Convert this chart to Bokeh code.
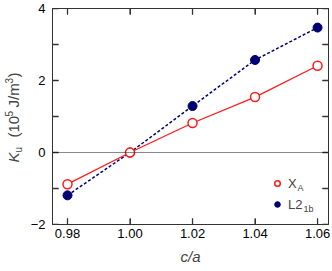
import math
from bokeh.plotting import figure
from bokeh.layouts import row
from bokeh.models import (Range1d, FixedTicker, LinearAxis, Span, Label, Legend,
                          LegendItem, PrintfTickFormatter)
from bokeh.embed import file_html
from bokeh.resources import INLINE

# ---- data ----
ca = [0.98, 1.00, 1.02, 1.04, 1.06]
ku_xa = [-0.88, 0.0, 0.82, 1.54, 2.41]
ku_l21b = [-1.19, 0.0, 1.29, 2.57, 3.47]
x_ticks = [0.98, 1.00, 1.02, 1.04, 1.06]
y_major = [-2, 0, 2, 4]
y_minor = [-1, 1, 3]
y_tick_labels = {-2: "\u22122"}
x_lim = (0.9752, 1.0635)
y_lim = (-2, 4)

RED = "#ff1a1a"
NAVY = "#000070"
AX = "#333333"
FONT = "Liberation Sans"

LW = 26                       # width of the strip holding the y title
W, H = 332 - LW, 271
ML, MR, MT, MB = 52 - LW, 4, 8, 47
FW, FH = W - ML - MR, H - MT - MB
TICK = 6                      # inward tick length in pixels

p = figure(width=W, height=H, x_range=Range1d(*x_lim), y_range=Range1d(*y_lim),
           output_backend="svg", toolbar_location=None,
           min_border_left=ML, min_border_right=MR, min_border_top=MT, min_border_bottom=MB)
p.grid.visible = False
p.outline_line_color = AX
p.background_fill_color = "white"
p.border_fill_color = "white"

def style_axis(ax):
    ax.axis_line_color = AX
    ax.major_tick_line_color = AX
    ax.minor_tick_line_color = AX
    ax.major_tick_in = TICK
    ax.major_tick_out = 0
    ax.minor_tick_in = TICK
    ax.minor_tick_out = 0
    ax.major_label_text_font = FONT
    ax.major_label_text_color = "black"
    ax.major_label_text_font_size = "13px"

xb = p.xaxis[0]
xb.ticker = FixedTicker(ticks=x_ticks)
xb.formatter = PrintfTickFormatter(format="%.2f")
style_axis(xb)
xb.major_label_standoff = 4
xb.axis_label = "c/a"
xb.axis_label_text_font = FONT
xb.axis_label_text_font_style = "italic"
xb.axis_label_text_font_size = "15px"
xb.axis_label_standoff = 7

yl = p.yaxis[0]
yl.ticker = FixedTicker(ticks=y_major, minor_ticks=y_minor)
yl.major_label_overrides = y_tick_labels
style_axis(yl)
yl.major_label_standoff = 7

# mirror axes (lines only; no tick labels)
xt = LinearAxis(ticker=FixedTicker(ticks=[], minor_ticks=x_ticks))
style_axis(xt)
p.add_layout(xt, "above")
yr = LinearAxis(ticker=FixedTicker(ticks=[], minor_ticks=y_major + y_minor))
style_axis(yr)
p.add_layout(yr, "right")

# inward ticks on all four sides, as short segments (length converted from pixels)
dx = (x_lim[1] - x_lim[0]) / FW * TICK
dy = (y_lim[1] - y_lim[0]) / FH * TICK
y_all = y_major + y_minor
n = len(x_ticks)
m = len(y_all)
tick_style = dict(line_color=AX, line_width=1.3)
p.segment(x0=x_ticks, y0=[y_lim[0]] * n, x1=x_ticks, y1=[y_lim[0] + dy] * n, **tick_style)
p.segment(x0=x_ticks, y0=[y_lim[1]] * n, x1=x_ticks, y1=[y_lim[1] - dy] * n, **tick_style)
p.segment(x0=[x_lim[0]] * m, y0=y_all, x1=[x_lim[0] + dx] * m, y1=y_all, **tick_style)
p.segment(x0=[x_lim[1]] * m, y0=y_all, x1=[x_lim[1] - dx] * m, y1=y_all, **tick_style)

p.add_layout(Span(location=0, dimension="width", line_color="#111111",
                  line_dash="1 1", line_width=1))

# L2_1b
p.line(ca, ku_l21b, line_color=NAVY, line_width=1.5, line_dash="3 2")
r_l2 = p.scatter(ca, ku_l21b, size=9, fill_color=NAVY, line_color=NAVY, marker="circle")
# X_A
p.line(ca, ku_xa, line_color=RED, line_width=1.3)
r_xa = p.scatter(ca, ku_xa, size=9, fill_color="white", line_color=RED, line_width=1.5,
                 marker="circle")

# legend
lx = FW - 51 - 7
ly = 10
leg = Legend(items=[LegendItem(label="X", renderers=[r_xa]),
                    LegendItem(label="L2", renderers=[r_l2])],
             location=(lx, ly), margin=0, padding=0, spacing=1,
             glyph_width=14, glyph_height=20, label_height=20, label_standoff=4,
             label_text_font=FONT, label_text_font_size="13px",
             background_fill_alpha=0, border_line_color=None)
p.add_layout(leg)
sub_x = lx + 14 + 4
p.add_layout(Label(x=sub_x + 9, y=ly + 31 - 4, x_units="screen", y_units="screen",
                   text="A", text_font=FONT, text_font_size="9px",
                   text_baseline="middle"))
p.add_layout(Label(x=sub_x + 15, y=ly + 10 - 4, x_units="screen", y_units="screen",
                   text="1b", text_font=FONT, text_font_size="9px",
                   text_baseline="middle"))

# y axis title in its own strip (rotated, pieces for italic / sub / superscripts)
t = figure(width=LW, height=H, x_range=Range1d(0, LW), y_range=Range1d(0, H),
           output_backend="svg", toolbar_location=None, min_border=0,
           x_axis_location=None, y_axis_location=None)
t.grid.visible = False
t.outline_line_color = None
t.background_fill_color = "white"
t.border_fill_color = "white"

cx = 13
pieces = [  # text, size, italic, offset across, advance along
    ("K", 15, True, 0, 10),
    ("u", 10, False, 4.5, 15),
    ("(10", 15, False, 0, 21),
    ("5", 10, False, -4.5, 9),
    ("J/m", 15, False, 0, 24),
    ("3", 10, False, -4.5, 6),
    (")", 15, False, 0, 5),
]
# strip frame is aligned with the plot frame (bottom at pixel row H - MB)
yy = (H - MB) - 162
for txt, s, it, off, adv in pieces:
    t.add_layout(Label(x=cx + off, y=yy, x_units="screen", y_units="screen", text=txt,
                       angle=math.pi / 2, text_font=FONT, text_font_size=f"{s}px",
                       text_font_style="italic" if it else "normal",
                       text_align="left", text_baseline="middle"))
    yy += adv

layout = row(t, p, spacing=0)
open("out.html", "w").write(file_html(layout, INLINE))
